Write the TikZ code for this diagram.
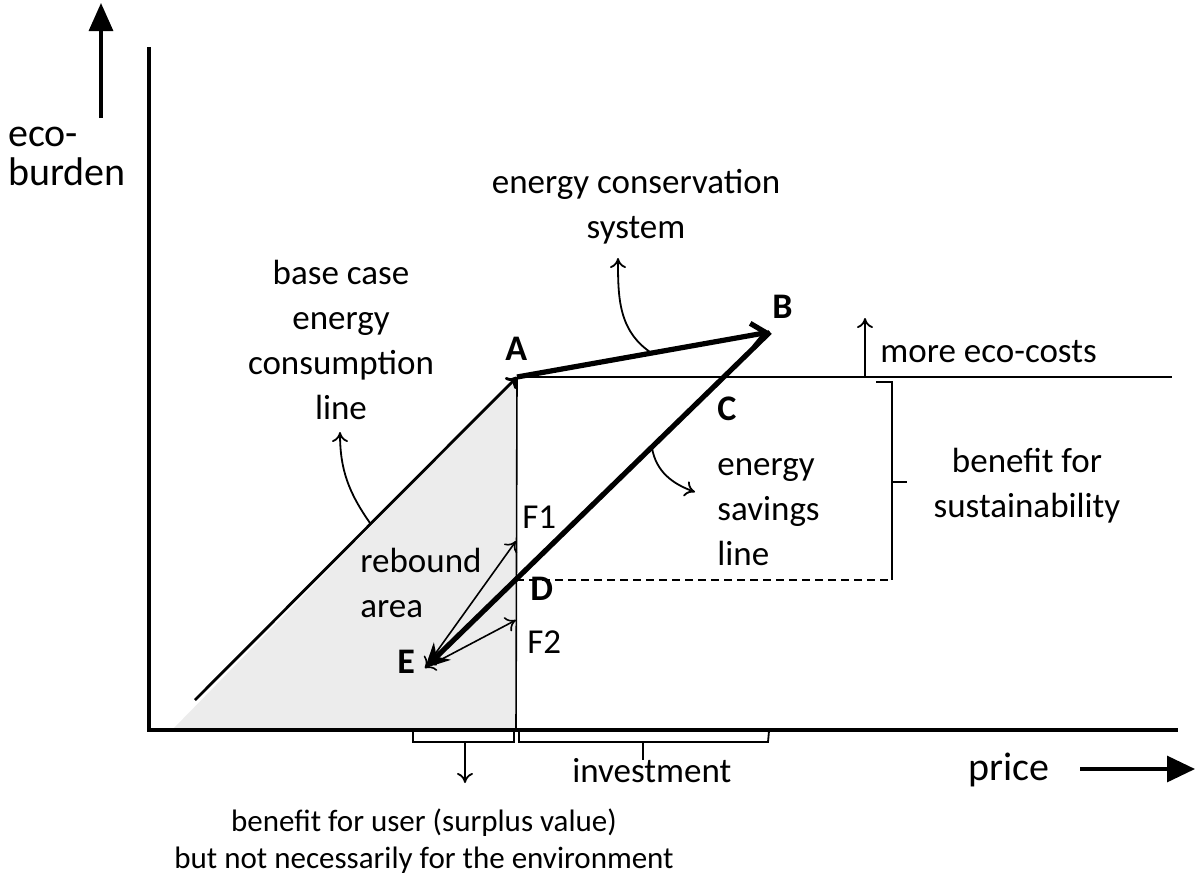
\documentclass[tikz,border=0pt]{standalone}
\usepackage{fontspec}
\setmainfont{Carlito}
\usetikzlibrary{arrows.meta}

\begin{document}
\begin{tikzpicture}[x=0.5pt, y=-0.5pt,
    axisline/.style={line width=1.6pt},
    vecline/.style={line width=2.6pt},
    pointer/.style={line width=0.9pt, -{To[length=5pt,width=8pt]}},
    bodytext/.style={inner sep=0pt, font=\fontsize{17.5}{22.5}\selectfont},
    axistext/.style={inner sep=0pt, font=\fontsize{20}{20}\selectfont},
    ptlabel/.style={inner sep=0pt, font=\bfseries\fontsize{18}{18}\selectfont}]
        \useasboundingbox (0,0) rectangle (1200,885);

        % Points of the diagram
        \coordinate (O) at (149,730);
        \coordinate (ytop) at (149,47);
        \coordinate (xend) at (1178,730);
        \coordinate (A) at (517,377);
        \coordinate (B) at (770,332);
        \coordinate (D) at (516,580);
        \coordinate (E) at (425,668);
        \coordinate (F1) at (516,541);
        \coordinate (F2) at (516,620);
        \coordinate (Abase) at (516,730);
        \coordinate (Aend) at (1172,377);
        \coordinate (startbase) at (195,700);
        \coordinate (shadestart) at (172,730);

        % Rebound area
        \fill[gray!15] (shadestart) -- (A) -- (Abase) -- cycle;

        % Axes
        \draw[axisline] (ytop) -- (O) -- (xend);
        \draw[line width=1.6pt, -{Triangle[length=14pt,width=12pt]}] (101,118) coordinate (yarr) -- (101,3) coordinate (yarrtip);
        \node[axistext, anchor=base west] (ylabel) at (8,146) {eco-};
        \node[axistext, anchor=base west] (ylabel2) at (8,185) {burden};
        \node[axistext, anchor=base west] (xlabel) at (968,780) {price};
        \draw[line width=1.6pt, -{Triangle[length=14pt,width=13pt]}] (1080,769) coordinate (xarr) -- (1195,769) coordinate (xarrtip);

        % Base case and investment lines
        \draw[line width=0.8pt] (A) -- (Abase);
        \draw[line width=1.2pt] (A) -- (Aend);
        \draw[line width=1.4pt, -{To[length=5pt,width=8pt]}] (startbase) -- (A);

        % Vectors
        \draw[vecline, -{Straight Barb[length=7pt,width=12pt]}] (A) -- (B);
        \draw[vecline, -{Stealth[length=12pt,width=12pt]}] (B) -- (E);
        \draw[line width=0.8pt, {To[length=5pt,width=8pt]}-{To[length=5pt,width=8pt]}] (E) -- (F1);
        \draw[line width=0.8pt, {To[length=5pt,width=8pt]}-{To[length=5pt,width=8pt]}] (E) -- (F2);
        \draw[line width=1.1pt, dash pattern=on 4pt off 2.5pt] (D) -- (892,580) coordinate (Dend);

        % Point labels
        \node[ptlabel, anchor=base west] (lblA) at (505,360) {A};
        \node[ptlabel, anchor=base west] (lblB) at (772,318) {B};
        \node[ptlabel, anchor=base west] (lblC) at (717,420) {C};
        \node[ptlabel, anchor=base west] (lblD) at (530,600) {D};
        \node[ptlabel, anchor=base west] (lblE) at (397,673) {E};
        \node[bodytext, anchor=base west] (lblF1) at (522,528) {F1};
        \node[bodytext, anchor=base west] (lblF2) at (527,653) {F2};

        % Explanations with curved pointers
        \node[bodytext, anchor=base, align=center] (conslabel) at (636,238) {energy conservation\\system};
        \coordinate (conspt) at (650,352);
        \draw[pointer] (conspt) to[out=145,in=-90] (618,258);
        \node[bodytext, anchor=base, align=center] (baselabel) at (341,419) {base case\\energy\\consumption\\line};
        \coordinate (basept) at (370,523);
        \draw[pointer] (basept) to[out=125,in=-90] (340,432);
        \node[bodytext, anchor=base west, align=left] (savlabel) at (717,565) {energy\\savings\\line};
        \coordinate (savpt) at (652,448);
        \draw[pointer] (savpt) to[out=-80,in=160] (695,492);
        \node[bodytext, anchor=base west, align=left] (reblabel) at (360,617) {rebound\\area};

        % More eco-costs
        \draw[pointer] (865,377) coordinate (morept) -- (865,318) coordinate (moretip);
        \node[bodytext, anchor=base west] (morelabel) at (880,362) {more eco-costs};

        % Benefit for sustainability bracket
        \draw[line width=0.9pt] (876,382) -- (892,382) -- (Dend);
        \draw[line width=0.9pt] (892,482) -- (907,482);
        \node[bodytext, anchor=base, align=center] (sustlabel) at (1027,517) {benefit for\\sustainability};

        % Braces under the price axis
        \draw[line width=0.9pt] (413,731) -- (413,742) -- (514,742) -- (514,731);
        \draw[pointer] (465,742) coordinate (userpt) -- (465,783) coordinate (usertip);
        \draw[line width=0.9pt] (519,731) -- (519,742) -- (768,742) -- (769,731);
        \draw[line width=0.9pt] (643,742) -- (643,760);
        \node[bodytext, anchor=base west] (invlabel) at (572,782) {investment};
        \node[inner sep=0pt, anchor=base, align=center, font=\fontsize{15.5}{18.5}\selectfont] (userlabel) at (424,868) {benefit for user (surplus value)\\but not necessarily for the environment};
    \end{tikzpicture}
\end{document}
